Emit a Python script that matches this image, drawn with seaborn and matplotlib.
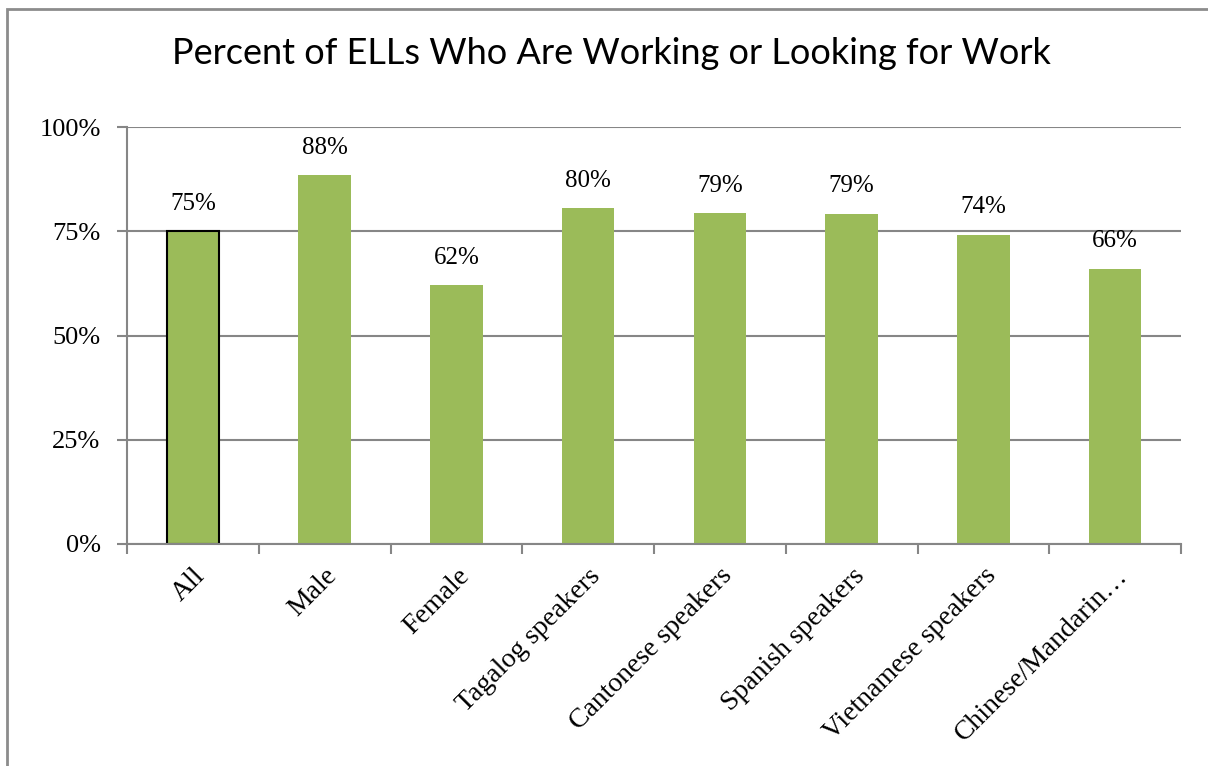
import matplotlib
matplotlib.use("Agg")
import matplotlib.pyplot as plt
import matplotlib.patches as mpatches
import seaborn as sns
import pandas as pd

categories = ["All", "Male", "Female", "Tagalog speakers", "Cantonese speakers",
              "Spanish speakers", "Vietnamese speakers", "Chinese/Mandarin\u2026"]
values = [75.0, 88.4, 62.0, 80.5, 79.3, 79.1, 74.2, 66.0]
yticks = [0, 25, 50, 75, 100]
title = "Percent of ELLs Who Are Working or Looking for Work"

sns.set_theme(style="white")
plt.rcParams["font.family"] = ["Liberation Serif", "DejaVu Serif"]
plt.rcParams["text.color"] = "black"
plt.rcParams["xtick.color"] = "black"
plt.rcParams["ytick.color"] = "black"

df = pd.DataFrame({"category": categories, "value": values})

fig = plt.figure(figsize=(12.08, 7.66), dpi=100)
ax = fig.add_axes([127/1208, 1 - 544/766, (1181-127)/1208, (544-127)/766])

sns.barplot(data=df, x="category", y="value", color="#9BBB59", saturation=1,
            width=0.4, ax=ax, edgecolor="none")
ax.patches[0].set_edgecolor("black")
ax.patches[0].set_linewidth(1.5)

grid_c = "#868686"
ax.set_ylim(0, 100)
ax.set_xlim(-0.5, len(categories) - 0.5)
ax.set_yticks(yticks)
ax.set_yticklabels([f"{v}%" for v in yticks], fontsize=19, color="black")
ax.yaxis.grid(True, color=grid_c, linewidth=1.5)
ax.set_axisbelow(True)
ax.tick_params(axis="y", length=7, width=1.5, color=grid_c, pad=12, left=True,
               labelcolor="black")

ax.set_xticks(range(len(categories)))
ax.set_xticklabels(categories, rotation=45, ha="right", rotation_mode="anchor",
                   fontsize=20, color="black")
ax.tick_params(axis="x", which="major", length=0, pad=14, labelcolor="black")
ax.set_xticks([i - 0.5 for i in range(len(categories) + 1)], minor=True)
ax.tick_params(axis="x", which="minor", length=7, width=1.5, color=grid_c, bottom=True)

for s in ["top", "right"]:
    ax.spines[s].set_visible(False)
for s in ["left", "bottom"]:
    ax.spines[s].set_color(grid_c)
    ax.spines[s].set_linewidth(1.5)

ax.set_xlabel("")
ax.set_ylabel("")

for i, v in enumerate(values):
    ax.annotate(f"{round(v)}%", (i, v), xytext=(0, 12), textcoords="offset points",
                ha="center", va="bottom", fontsize=18, color="black")

fig.text(611/1208, 1 - 53/766, title, ha="center", va="center", fontsize=26,
         family=["Lato", "DejaVu Sans"], color="black")

fig.patches.append(mpatches.Rectangle((7/1208, -0.1), 2, (766-9)/766 + 0.1,
                                      transform=fig.transFigure, fill=False,
                                      edgecolor="#8c8c8c", linewidth=2))

fig.savefig("out.png", dpi=100)
